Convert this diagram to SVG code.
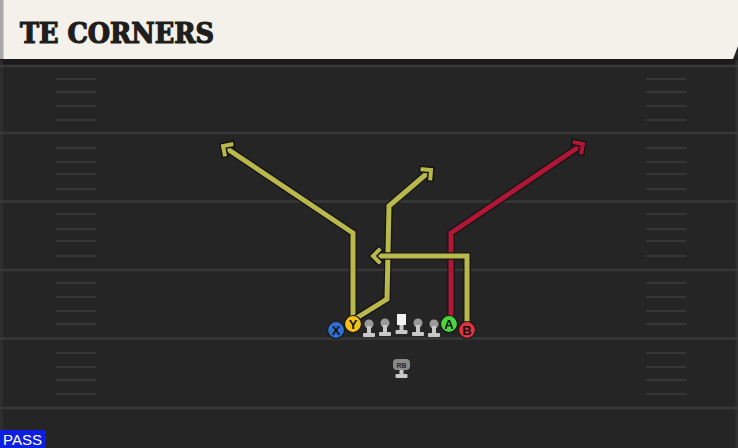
<svg xmlns="http://www.w3.org/2000/svg" width="738" height="448" viewBox="0 0 738 448">
<defs>
<style>
.yl{stroke:#383838;stroke-width:2.5;fill:none}
.hm{stroke:#363636;stroke-width:2;fill:none}
.ol{stroke:#141414;stroke-width:7.5;fill:none;stroke-linejoin:miter;stroke-linecap:butt}
.ry{stroke:#b8b84c;stroke-width:5;fill:none;stroke-linejoin:miter}
.rr{stroke:#b01636;stroke-width:5;fill:none;stroke-linejoin:miter}
.lbl{font-family:"Liberation Sans",Arial,sans-serif;font-weight:bold;text-anchor:middle}
.head{fill:#9a9a9a}
.body{fill:#c8c8c8}
</style>
<marker id="ay" viewBox="-8 -8 12 16" refX="0" refY="0" markerWidth="12" markerHeight="16" markerUnits="userSpaceOnUse" orient="auto" overflow="visible">
<path d="M-6,-6 L0,0 L-6,6" fill="none" stroke="#141414" stroke-width="7" stroke-linecap="square"/>
<path d="M-6,-6 L0,0 L-6,6" fill="none" stroke="#b8b84c" stroke-width="4" stroke-linecap="square"/>
</marker>
<marker id="ar" viewBox="-8 -8 12 16" refX="0" refY="0" markerWidth="12" markerHeight="16" markerUnits="userSpaceOnUse" orient="auto" overflow="visible">
<path d="M-6,-6 L0,0 L-6,6" fill="none" stroke="#141414" stroke-width="7" stroke-linecap="square"/>
<path d="M-6,-6 L0,0 L-6,6" fill="none" stroke="#b01636" stroke-width="4" stroke-linecap="square"/>
</marker>
</defs>
<rect width="738" height="448" fill="#252525"/>
<rect x="0" y="58" width="738" height="8" fill="#1b1b1b"/>
<line x1="1.5" y1="60" x2="1.5" y2="448" stroke="#333" stroke-width="2"/>
<line x1="736.5" y1="60" x2="736.5" y2="448" stroke="#333" stroke-width="2"/>
<g id="field">
<line class="yl" x1="0" y1="66" x2="738" y2="66"/>
<line class="yl" x1="0" y1="133" x2="738" y2="133"/>
<line class="yl" x1="0" y1="201.5" x2="738" y2="201.5"/>
<line class="yl" x1="0" y1="270" x2="738" y2="270"/>
<line class="yl" x1="0" y1="338.5" x2="738" y2="338.5"/>
<line class="yl" x1="0" y1="408" x2="738" y2="408"/>
<path class="hm" d="M56,79H96M56,92H96M56,106H96M56,120H96M56,148H96M56,162H96M56,174H96M56,189H96M56,214H96M56,229H96M56,241H96M56,256H96M56,283H96M56,297H96M56,311H96M56,324H96M56,353H96M56,367H96M56,380H96M56,394H96"/>
<path class="hm" d="M646,79H686M646,92H686M646,106H686M646,120H686M646,148H686M646,162H686M646,174H686M646,189H686M646,214H686M646,229H686M646,241H686M646,256H686M646,283H686M646,297H686M646,311H686M646,324H686M646,353H686M646,367H686M646,380H686M646,394H686"/>
</g>
<g id="header">
<path d="M0,0 H738 V46 L733,59 H0 Z" fill="#f4f1ea"/>
<rect x="0" y="0" width="3.5" height="59" fill="#a8a8a8"/>
<text x="20" y="43" font-family="'DejaVu Serif Condensed','DejaVu Serif',serif" font-weight="bold" font-size="28" fill="#1e1e1e" stroke="#1e1e1e" stroke-width="1.2" textLength="194" lengthAdjust="spacingAndGlyphs">TE CORNERS</text>
</g>
<g id="connectors">
<path class="ol" d="M353,318 V233 L223,146"/>
<path class="ry" d="M353,318 V233 L223,146" marker-end="url(#ay)"/>
<path class="ol" d="M355,319 L387,299 L389,206 L431,170"/>
<path class="ry" d="M355,319 L387,299 L389,206 L431,170" marker-end="url(#ay)"/>
<path class="ol" d="M451,318 V233 L583,144"/>
<path class="rr" d="M451,318 V233 L583,144" marker-end="url(#ar)"/>
<path class="ol" d="M467,323 V256 H373"/>
<path class="ry" d="M467,323 V256 H373" marker-end="url(#ay)"/>
</g>
<g id="OL">
<g><circle class="head" cx="369" cy="324" r="4.5"/><rect class="body" x="367" y="326" width="4" height="7"/><rect class="body" x="363" y="333" width="12" height="4" rx="1"/></g>
<g><circle class="head" cx="385" cy="323" r="4.5"/><rect class="body" x="383" y="325" width="4" height="7"/><rect class="body" x="379" y="332" width="12" height="4" rx="1"/></g>
<g><rect x="397" y="314" width="9" height="11" fill="#f2f2f2"/><rect class="body" x="399.5" y="325" width="4" height="5"/><rect class="body" x="395.5" y="330" width="12" height="4" rx="1"/></g>
<g><circle class="head" cx="418" cy="323" r="4.5"/><rect class="body" x="416" y="325" width="4" height="7"/><rect class="body" x="412" y="332" width="12" height="4" rx="1"/></g>
<g><circle class="head" cx="434" cy="324" r="4.5"/><rect class="body" x="432" y="326" width="4" height="7"/><rect class="body" x="428" y="333" width="12" height="4" rx="1"/></g>
</g>
<g id="RB">
<rect x="393" y="359" width="17" height="11" rx="4" fill="#8a8a8a"/>
<text class="lbl" x="401.5" y="368" font-size="7" fill="#2a2a2a">RB</text>
<rect class="body" x="399.5" y="370" width="4" height="4"/>
<rect class="body" x="395.5" y="374" width="12" height="4" rx="1"/>
</g>
<g id="X"><circle cx="336" cy="330" r="8.5" fill="#2f6fd6" stroke="#151515" stroke-width="1.2"/><text class="lbl" x="336" y="335" font-size="13" fill="#111">X</text></g>
<g id="Y"><circle cx="353" cy="324" r="8.5" fill="#f2c21a" stroke="#151515" stroke-width="1.2"/><text class="lbl" x="353" y="329" font-size="13" fill="#111">Y</text></g>
<g id="A"><circle cx="449" cy="324" r="8.5" fill="#4bd43d" stroke="#151515" stroke-width="1.2"/><text class="lbl" x="449" y="329" font-size="13" fill="#111">A</text></g>
<g id="B"><circle cx="467" cy="330" r="8.5" fill="#e0333f" stroke="#151515" stroke-width="1.2"/><text class="lbl" x="467" y="335" font-size="13" fill="#111">B</text></g>
<g id="pass">
<rect x="0" y="430" width="46" height="18" fill="#0c1fe0"/>
<text x="3" y="445" font-family="'Liberation Sans',Arial,sans-serif" font-size="14" fill="#ffffff" textLength="39" lengthAdjust="spacingAndGlyphs">PASS</text>
</g>
</svg>
